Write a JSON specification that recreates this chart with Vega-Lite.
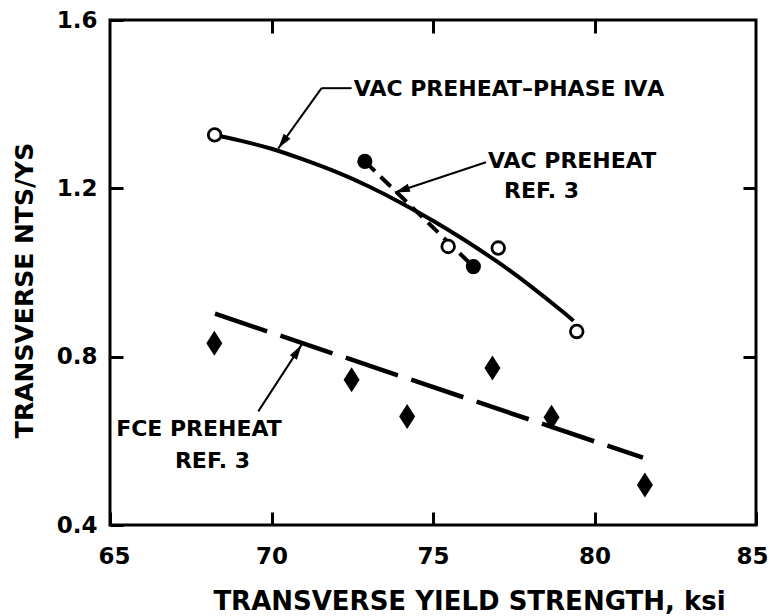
{
  "$schema": "https://vega.github.io/schema/vega-lite/v6.json",
  "width": 646,
  "height": 505,
  "autosize": "none",
  "padding": {"left": 110, "top": 20, "right": 14, "bottom": 91},
  "background": "white",
  "config": {
    "view": {"stroke": "black", "strokeWidth": 3},
    "font": "DejaVu Sans",
    "axis": {"grid": false, "domain": false, "tickColor": "black", "tickWidth": 3, "tickSize": -13, "labelColor": "black", "titleColor": "black", "labelFont": "DejaVu Sans", "titleFont": "DejaVu Sans", "labelFontWeight": "bold", "titleFontWeight": "bold", "labelFontSize": 23, "titleFontSize": 25}
  },
  "datasets": {
    "curve": [
      {"x": 68.3, "y": 1.326}, {"x": 69, "y": 1.314}, {"x": 70, "y": 1.294}, {"x": 71, "y": 1.268},
      {"x": 72, "y": 1.239}, {"x": 73, "y": 1.205}, {"x": 74, "y": 1.166}, {"x": 75, "y": 1.123},
      {"x": 76, "y": 1.076}, {"x": 77, "y": 1.025}, {"x": 78, "y": 0.969}, {"x": 79, "y": 0.908}, {"x": 79.35, "y": 0.885}
    ],
    "fce": [{"x": 68.25, "y": 0.902}, {"x": 81.5, "y": 0.56}],
    "ref3": [{"x": 72.89, "y": 1.264}, {"x": 76.25, "y": 1.014}],
    "open": [{"x": 68.24, "y": 1.327}, {"x": 75.47, "y": 1.062}, {"x": 77.02, "y": 1.058}, {"x": 79.45, "y": 0.86}],
    "filled": [{"x": 72.89, "y": 1.264}, {"x": 76.25, "y": 1.014}],
    "diamonds": [{"x": 68.23, "y": 0.832}, {"x": 72.48, "y": 0.745}, {"x": 74.2, "y": 0.658}, {"x": 76.84, "y": 0.773}, {"x": 78.67, "y": 0.656}, {"x": 81.56, "y": 0.495}],
    "leaders": [
      {"x": 72.48, "y": 1.438, "x2": 71.55, "y2": 1.438},
      {"x": 71.55, "y": 1.438, "x2": 70.21, "y2": 1.295},
      {"x": 76.64, "y": 1.262, "x2": 73.82, "y2": 1.19},
      {"x": 69.59, "y": 0.67, "x2": 70.93, "y2": 0.828}
    ],
    "labels": [
      {"x": 72.55, "y": 1.437, "text": "VAC PREHEAT–PHASE ⅣA"},
      {"x": 76.7, "y": 1.265, "text": "VAC PREHEAT"},
      {"x": 77.2, "y": 1.194, "text": "REF. 3"},
      {"x": 65.19, "y": 0.629, "text": "FCE PREHEAT"},
      {"x": 67.01, "y": 0.5515, "text": "REF. 3"}
    ]
  },
  "layer": [
    {
      "data": {"name": "curve"},
      "mark": {"type": "line", "color": "black", "strokeWidth": 4, "interpolate": "natural"},
      "encoding": {
        "x": {"field": "x", "type": "quantitative", "scale": {"domain": [65, 85], "nice": false, "zero": false},
          "axis": {"orient": "bottom", "values": [65, 70, 75, 80, 85], "labelPadding": 33, "title": "TRANSVERSE YIELD STRENGTH, ksi", "titleFontSize": 26, "titleX": 359, "titleY": 76, "titleBaseline": "middle", "titleAlign": "center", "labelFlush": true, "labelFlushOffset": 12}},
        "y": {"field": "y", "type": "quantitative", "scale": {"domain": [0.4, 1.6], "nice": false, "zero": false},
          "axis": {"orient": "left", "values": [0.4, 0.8, 1.2, 1.6], "format": ".1f", "labelPadding": 26, "title": "TRANSVERSE NTS/YS", "titleX": -86, "titleY": 270, "titleAngle": -90, "titleBaseline": "middle", "titleAlign": "center", "labelFlush": false}}
      }
    },
    {
      "data": {"name": "fce"},
      "mark": {"type": "line", "color": "black", "strokeWidth": 4.5, "strokeDash": [55, 14]},
      "encoding": {
        "x": {"field": "x", "type": "quantitative", "scale": {"domain": [65, 85], "nice": false, "zero": false},
          "axis": {"orient": "top", "values": [70, 75, 80], "labels": false, "title": null}},
        "y": {"field": "y", "type": "quantitative", "scale": {"domain": [0.4, 1.6], "nice": false, "zero": false},
          "axis": {"orient": "right", "values": [0.8, 1.2], "labels": false, "title": null}}
      }
    },
    {
      "data": {"name": "ref3"},
      "mark": {"type": "line", "color": "black", "strokeWidth": 4, "strokeDash": [14, 8]},
      "encoding": {
        "x": {"field": "x", "type": "quantitative", "axis": null},
        "y": {"field": "y", "type": "quantitative", "axis": null}
      }
    },
    {
      "data": {"name": "leaders"},
      "mark": {"type": "rule", "color": "black", "strokeWidth": 2},
      "encoding": {
        "x": {"field": "x", "type": "quantitative", "axis": null},
        "y": {"field": "y", "type": "quantitative", "axis": null},
        "x2": {"field": "x2"},
        "y2": {"field": "y2"}
      }
    },
    {
      "data": {"values": [{"x": 70.21, "y": 1.295}]},
      "mark": {"type": "point", "shape": "M0,0L-0.28,1L0.28,1Z", "size": 900, "filled": true, "color": "black", "opacity": 1, "angle": 216},
      "encoding": {"x": {"field": "x", "type": "quantitative", "axis": null}, "y": {"field": "y", "type": "quantitative", "axis": null}}
    },
    {
      "data": {"values": [{"x": 73.82, "y": 1.19}]},
      "mark": {"type": "point", "shape": "M0,0L-0.28,1L0.28,1Z", "size": 900, "filled": true, "color": "black", "opacity": 1, "angle": 251.5},
      "encoding": {"x": {"field": "x", "type": "quantitative", "axis": null}, "y": {"field": "y", "type": "quantitative", "axis": null}}
    },
    {
      "data": {"values": [{"x": 70.93, "y": 0.828}]},
      "mark": {"type": "point", "shape": "M0,0L-0.28,1L0.28,1Z", "size": 900, "filled": true, "color": "black", "opacity": 1, "angle": 33},
      "encoding": {"x": {"field": "x", "type": "quantitative", "axis": null}, "y": {"field": "y", "type": "quantitative", "axis": null}}
    },
    {
      "data": {"name": "open"},
      "mark": {"type": "point", "shape": "circle", "size": 160, "fill": "white", "stroke": "black", "strokeWidth": 2.8, "opacity": 1, "fillOpacity": 1},
      "encoding": {"x": {"field": "x", "type": "quantitative", "axis": null}, "y": {"field": "y", "type": "quantitative", "axis": null}}
    },
    {
      "data": {"name": "filled"},
      "mark": {"type": "point", "shape": "circle", "size": 230, "filled": true, "color": "black", "opacity": 1},
      "encoding": {"x": {"field": "x", "type": "quantitative", "axis": null}, "y": {"field": "y", "type": "quantitative", "axis": null}}
    },
    {
      "data": {"name": "diamonds"},
      "mark": {"type": "point", "shape": "M0,-1L0.64,0L0,1L-0.64,0Z", "size": 625, "filled": true, "color": "black", "opacity": 1},
      "encoding": {"x": {"field": "x", "type": "quantitative", "axis": null}, "y": {"field": "y", "type": "quantitative", "axis": null}}
    },
    {
      "data": {"name": "labels"},
      "mark": {"type": "text", "align": "left", "baseline": "middle", "font": "DejaVu Sans", "fontWeight": "bold", "fontSize": 22, "color": "black"},
      "encoding": {"x": {"field": "x", "type": "quantitative", "axis": null}, "y": {"field": "y", "type": "quantitative", "axis": null}, "text": {"field": "text"}}
    }
  ],
  "resolve": {"axis": {"x": "independent", "y": "independent"}}
}
